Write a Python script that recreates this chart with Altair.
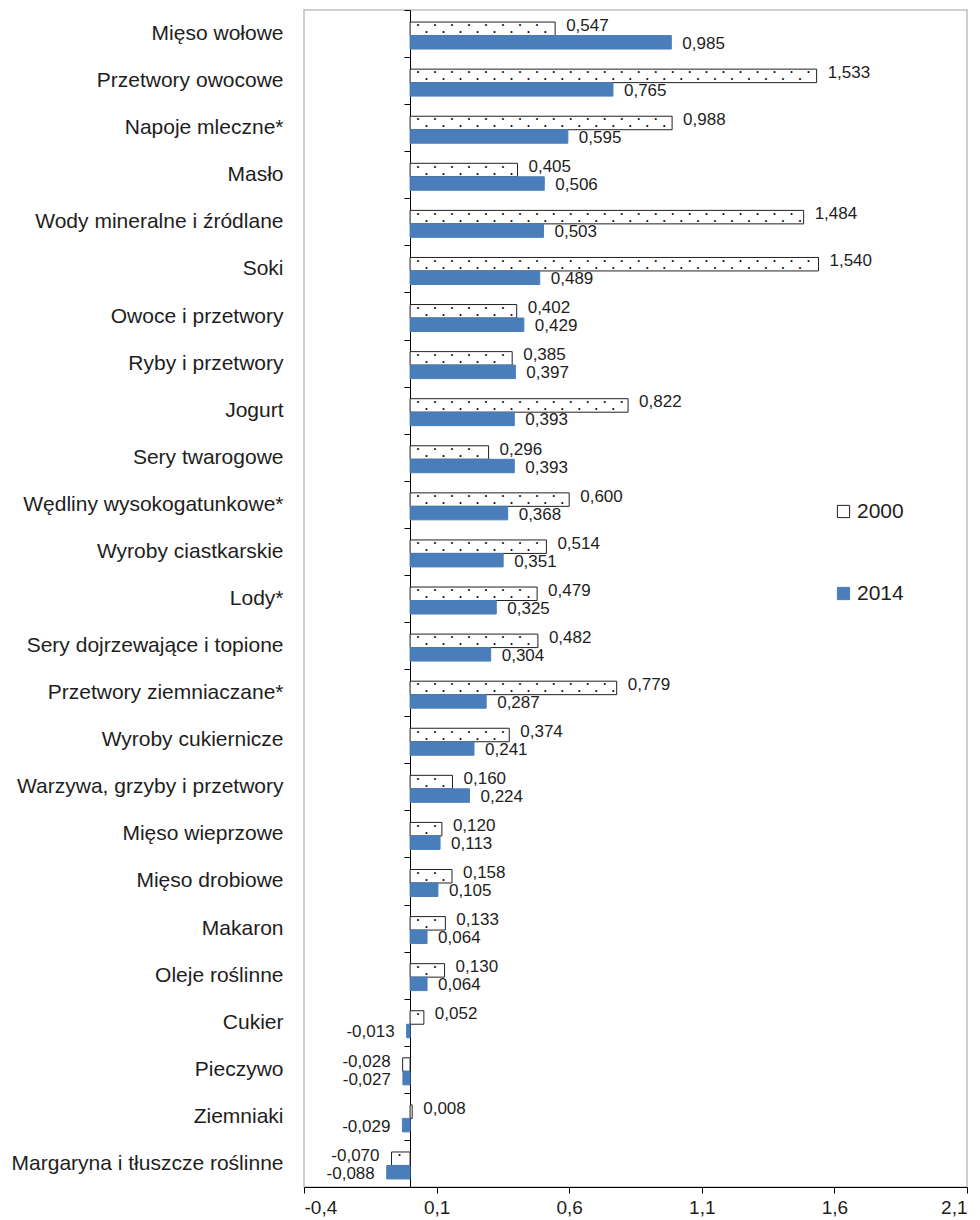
import altair as alt
import pandas as pd

categories = [
    "Mięso wołowe", "Przetwory owocowe", "Napoje mleczne*", "Masło",
    "Wody mineralne i źródlane", "Soki\u00a0", "Owoce i przetwory", "Ryby i przetwory",
    "Jogurt", "Sery twarogowe", "Wędliny wysokogatunkowe*", "Wyroby ciastkarskie",
    "Lody*", "Sery dojrzewające i topione", "Przetwory ziemniaczane*",
    "Wyroby cukiernicze", "Warzywa, grzyby i przetwory", "Mięso wieprzowe",
    "Mięso drobiowe", "Makaron", "Oleje roślinne", "Cukier", "Pieczywo",
    "Ziemniaki", "Margaryna i tłuszcze roślinne",
]
values_2000 = [0.547, 1.533, 0.988, 0.405, 1.484, 1.540, 0.402, 0.385, 0.822, 0.296,
               0.600, 0.514, 0.479, 0.482, 0.779, 0.374, 0.160, 0.120, 0.158, 0.133,
               0.130, 0.052, -0.028, 0.008, -0.070]
values_2014 = [0.985, 0.765, 0.595, 0.506, 0.503, 0.489, 0.429, 0.397, 0.393, 0.393,
               0.368, 0.351, 0.325, 0.304, 0.287, 0.241, 0.224, 0.113, 0.105, 0.064,
               0.064, -0.013, -0.027, -0.029, -0.088]
years = ["2000", "2014"]
x_ticks = [-0.4, 0.1, 0.6, 1.1, 1.6, 2.1]

rows = []
for c, a, b in zip(categories, values_2000, values_2014):
    rows.append({"cat": c, "year": "2000", "v": a})
    rows.append({"cat": c, "year": "2014", "v": b})
df = pd.DataFrame(rows)

FONT = "Liberation Sans"
TXT = "#1e1e1e"
BLUE = "#4a7ebb"

x_enc = alt.X(
    "v:Q",
    scale=alt.Scale(domain=[-0.4, 2.1], nice=False, zero=False),
    axis=alt.Axis(
        values=x_ticks, title=None, grid=False, domainColor="#000", tickColor="#000",
        tickSize=6, labelFontSize=19, labelPadding=5, labelColor=TXT, labelFont=FONT,
        labelExpr="replace(replace(format(datum.value, '.1f'), '.', ','), '\u2212', '-')",
    ),
)
y_enc = alt.Y(
    "cat:N", sort=categories,
    scale=alt.Scale(paddingInner=0, paddingOuter=0),
    axis=alt.Axis(
        title=None, offset=-106, tickBand="extent", tickSize=6, tickColor="#000",
        domainColor="#000", labelFontSize=21, labelPadding=121, labelColor=TXT,
        labelFont=FONT, labelLimit=400,
    ),
)
yoff_enc = alt.YOffset(
    "year:N", scale=alt.Scale(domain=years, paddingInner=0, paddingOuter=0.745, align=0.6)
)

base = alt.Chart(df)

bars = base.mark_bar(strokeWidth=1).encode(
    x=x_enc,
    y=y_enc,
    yOffset=yoff_enc,
    fill=alt.Fill("year:N", scale=alt.Scale(domain=years, range=["#ffffff", BLUE]),
                  legend=alt.Legend(title=None)),
    stroke=alt.Stroke("year:N", scale=alt.Scale(domain=years, range=["#222222", BLUE]),
                      legend=alt.Legend(title=None)),
)

def dots(start):
    return (
        base.transform_filter("datum.year == '2000'")
        .transform_calculate(
            d=f"sequence(min(0, datum.v) + {start}, max(0, datum.v) - 0.012, 0.064)"
        )
        .transform_flatten(["d"])
    )

dots_top = dots(0.03).mark_text(text="•", fontSize=7, color="#000", dy=-3.5, baseline="middle").encode(
    x=alt.X("d:Q"), y=alt.Y("cat:N", sort=categories), yOffset=yoff_enc
)
dots_bot = dots(0.062).mark_text(text="•", fontSize=7, color="#000", dy=3.5, baseline="middle").encode(
    x=alt.X("d:Q"), y=alt.Y("cat:N", sort=categories), yOffset=yoff_enc
)

label_expr = "replace(replace(format(datum.v, '.3f'), '.', ','), '\u2212', '-')"

def labels(cond, align, dx, dy):
    return (
        base.transform_filter(cond)
        .transform_calculate(lbl=label_expr)
        .mark_text(align=align, dx=dx, dy=dy, baseline="middle", fontSize=17, font=FONT, color=TXT)
        .encode(x="v:Q", y=alt.Y("cat:N", sort=categories), yOffset=yoff_enc, text="lbl:N")
    )

lab_pos_00 = labels("datum.v >= 0 && datum.year == '2000'", "left", 11, -3)
lab_pos_14 = labels("datum.v >= 0 && datum.year == '2014'", "left", 11, 1.5)
lab_neg_00 = labels("datum.v < 0 && datum.year == '2000'", "right", -12, -3)
lab_neg_14 = labels("datum.v < 0 && datum.year == '2014'", "right", -12, 1.5)

chart = (
    alt.layer(bars, dots_top, dots_bot, lab_pos_00, lab_pos_14, lab_neg_00, lab_neg_14)
    .properties(
        width=663, height=1177,
        autosize=alt.AutoSizeParams(type="none"),
        padding={"left": 296, "top": 2, "right": 5, "bottom": 40},
    )
    .configure_view(stroke="#c0c0c0", strokeWidth=1.5)
    .configure_legend(
        orient="none", legendX=529, legendY=491, symbolType="square", symbolSize=150,
        symbolStrokeWidth=1, labelFontSize=21, labelFont=FONT, labelColor=TXT,
        rowPadding=60, labelOffset=3,
    )
)

chart.save("out.html", embed_options={"renderer": "svg", "actions": False})
